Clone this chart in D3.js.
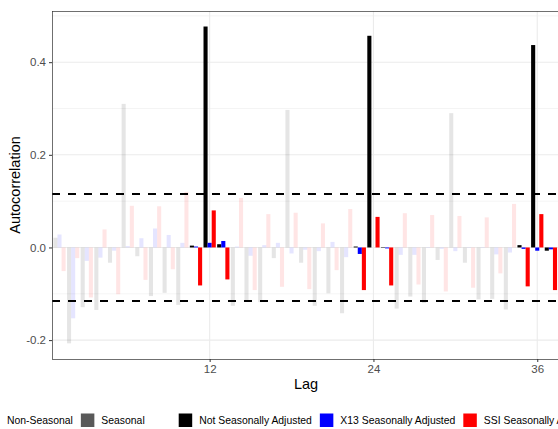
<!DOCTYPE html>
<html>
<head>
<meta charset="utf-8">
<script src="https://cdn.jsdelivr.net/npm/d3@7"></script>
<style>
  html, body { margin: 0; padding: 0; background: #fff; overflow: hidden; }
  svg { display: block; font-family: "Liberation Sans", Arial, sans-serif; }
</style>
</head>
<body>
<svg id="chart" width="558" height="429"></svg>
<script>
// ---- data ----
const lags = [1,2,3,4,5,6,7,8,9,10,11,12,13,14,15,16,17,18,19,20,21,22,23,24,25,26,27,28,29,30,31,32,33,34,35,36,37];
const seasonalLags = [11,12,13,23,24,25,35,36,37];
const seriesNames = ["Not Seasonally Adjusted", "X13 Seasonally Adjusted", "SSI Seasonally Adjusted"];
const notSA = [0.021,-0.207,-0.129,-0.135,-0.033,0.310,-0.019,-0.105,-0.098,-0.124,0.004,0.477,0.007,-0.126,-0.116,-0.118,-0.023,0.297,-0.033,-0.126,-0.099,-0.142,0.002,0.457,0.001,-0.132,-0.106,-0.120,-0.027,0.290,-0.033,-0.112,-0.111,-0.134,0.005,0.437,-0.007];
const x13 = [0.028,-0.153,-0.029,-0.022,-0.007,0.003,0.020,0.041,0.027,0.010,0.002,0.010,0.014,0.002,-0.018,0.005,0.010,-0.013,-0.005,-0.008,0.012,-0.021,-0.014,0.000,-0.002,-0.016,-0.016,-0.001,-0.003,-0.008,0.001,0.001,-0.015,-0.011,-0.003,-0.007,-0.004];
const ssi = [-0.051,-0.023,-0.108,0.039,-0.101,0.090,-0.070,0.089,-0.047,0.120,-0.082,0.080,-0.069,0.107,-0.092,0.072,-0.085,0.075,-0.090,0.052,-0.049,0.083,-0.092,0.066,-0.082,0.074,-0.080,0.070,-0.095,0.068,-0.087,0.065,-0.056,0.094,-0.084,0.072,-0.092];
const confBound = 0.1155;
const xTicks = [12, 24, 36];
const yTicks = [-0.2, 0.0, 0.2, 0.4];
const yMinor = [-0.1, 0.1, 0.3, 0.5];
const alphaLabels = ["Non-Seasonal", "Seasonal"];

// ---- layout ----
const svg = d3.select("#chart");
const P = { left: 52, right: 560, top: 11, bottom: 359 };
const colors = d3.scaleOrdinal().domain(seriesNames).range(["#000000", "#0000ff", "#ff0000"]);

const x = d3.scaleLinear().domain([1, 37]).range([59.5, 59.5 + 36 * 13.65]);
const y = d3.scaleLinear().domain([-0.2408, 0.5105]).range([P.bottom, P.top]);
const xBand = d3.scaleBand().domain(seriesNames).range([-0.45, 0.45]);

svg.append("rect").attr("width", 558).attr("height", 429).attr("fill", "#fff");

const clip = svg.append("clipPath").attr("id", "pclip").append("rect")
  .attr("x", P.left).attr("y", P.top).attr("width", P.right - P.left).attr("height", P.bottom - P.top);

const panel = svg.append("g").attr("clip-path", "url(#pclip)");

// grid
panel.selectAll(".ymin").data(yMinor).join("line")
  .attr("x1", P.left).attr("x2", P.right)
  .attr("y1", d => y(d)).attr("y2", d => y(d))
  .attr("stroke", "#ebebeb").attr("stroke-width", 0.55);
panel.selectAll(".ymaj").data(yTicks).join("line")
  .attr("x1", P.left).attr("x2", P.right)
  .attr("y1", d => y(d)).attr("y2", d => y(d))
  .attr("stroke", "#ebebeb").attr("stroke-width", 1.1);
panel.selectAll(".xmaj").data(xTicks).join("line")
  .attr("x1", d => x(d)).attr("x2", d => x(d))
  .attr("y1", P.top).attr("y2", P.bottom)
  .attr("stroke", "#ebebeb").attr("stroke-width", 1.1);

// bars
const rows = [];
lags.forEach((lag, i) => {
  const seas = seasonalLags.includes(lag);
  [notSA, x13, ssi].forEach((arr, j) => {
    rows.push({ lag, series: seriesNames[j], value: arr[i], seas });
  });
});

panel.selectAll(".bar").data(rows).join("rect")
  .attr("x", d => x(d.lag + xBand(d.series)))
  .attr("width", d => x(d.lag + xBand(d.series) + xBand.bandwidth()) - x(d.lag + xBand(d.series)))
  .attr("y", d => y(Math.max(0, d.value)))
  .attr("height", d => Math.abs(y(d.value) - y(0)))
  .attr("fill", d => colors(d.series))
  .attr("fill-opacity", d => d.seas ? 1 : 0.1);

// confidence lines
panel.selectAll(".conf").data([confBound, -confBound]).join("line")
  .attr("x1", P.left).attr("x2", P.right)
  .attr("y1", d => y(d)).attr("y2", d => y(d))
  .attr("stroke", "#000").attr("stroke-width", 2)
  .attr("stroke-dasharray", "8,8");

// panel border
svg.append("rect")
  .attr("x", P.left + 0.5).attr("y", P.top + 0.5)
  .attr("width", P.right - P.left).attr("height", P.bottom - P.top)
  .attr("fill", "none").attr("stroke", "#333333").attr("stroke-width", 0.7);

// axes
const yAxis = svg.append("g").attr("transform", `translate(${P.left},0)`)
  .call(d3.axisLeft(y).tickValues(yTicks).tickSize(3).tickPadding(3).tickFormat(d3.format(".1f")));
yAxis.select(".domain").remove();
yAxis.selectAll("line").attr("stroke", "#333333");
yAxis.selectAll("text").attr("fill", "#4d4d4d").style("font-size", "11.5px")
  .style("font-family", '"Liberation Sans", Arial, sans-serif')
  .text(d => d3.format(".1f")(d).replace("\u2212", "-"));

const xAxis = svg.append("g").attr("transform", `translate(0,${P.bottom})`)
  .call(d3.axisBottom(x).tickValues(xTicks).tickSize(3).tickPadding(3).tickFormat(d3.format("d")));
xAxis.select(".domain").remove();
xAxis.selectAll("line").attr("stroke", "#333333");
xAxis.selectAll("text").attr("fill", "#4d4d4d").style("font-size", "11.5px")
  .style("font-family", '"Liberation Sans", Arial, sans-serif');

// axis titles
svg.append("text").attr("x", (P.left + P.right) / 2).attr("y", 389)
  .attr("text-anchor", "middle").attr("font-size", 14.5).attr("fill", "#000").text("Lag");
svg.append("text").attr("transform", `translate(20,${(P.top + P.bottom) / 2}) rotate(-90)`)
  .attr("text-anchor", "middle").attr("font-size", 14.5).attr("fill", "#000").text("Autocorrelation");

// legend
const lg = svg.append("g").attr("font-size", 10.4);
const keyS = 13.5, keyY = 413.5, textY = 424;
let cx = 7;
const alphaFills = ["#595959", "#595959"];
const alphaOp = [0.1, 1];
alphaLabels.forEach((lab, i) => {
  lg.append("rect").attr("x", cx - 7 - keyS).attr("y", keyY).attr("width", keyS).attr("height", keyS)
    .attr("fill", alphaFills[i]).attr("fill-opacity", alphaOp[i]);
  const t = lg.append("text").attr("x", cx).attr("y", textY).attr("fill", "#000").text(lab);
  cx += t.node().getComputedTextLength() + 7 + keyS + 8;
});
cx += 26;
seriesNames.forEach((lab) => {
  lg.append("rect").attr("x", cx - 7 - keyS).attr("y", keyY).attr("width", keyS).attr("height", keyS)
    .attr("fill", colors(lab));
  const t = lg.append("text").attr("x", cx).attr("y", textY).attr("fill", "#000").text(lab);
  cx += t.node().getComputedTextLength() + 7 + keyS + 8;
});
</script>
</body>
</html>
